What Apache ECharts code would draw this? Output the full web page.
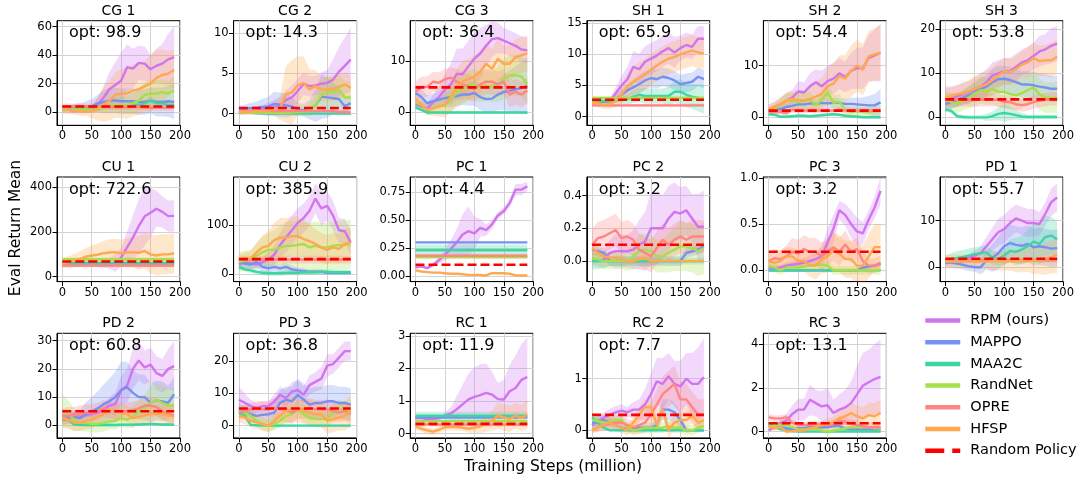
<!DOCTYPE html>
<html><head><meta charset="utf-8">
<script src="https://cdn.jsdelivr.net/npm/echarts@6/dist/echarts.min.js"></script>
<style>html,body{margin:0;padding:0;background:#fff}#c{width:1080px;height:483px}</style>
</head><body><div id="c"></div>
<script>
const STEPS = [0,10,20,30,40,50,60,70,80,90,100,110,120,130,140,150,160,170,180,190];
const ALGOS = ['RPM (ours)','MAPPO','MAA2C','RandNet','OPRE','HFSP'];
const COLORS = ['#d274f0','#7790f2','#3dd6a3','#a6df4a','#ff8585','#ffa84f'];
const TITLES = ['CG 1','CG 2','CG 3','SH 1','SH 2','SH 3','CU 1','CU 2','PC 1','PC 2','PC 3','PD 1','PD 2','PD 3','RC 1','RC 2','RC 3'];
const OPT = ['opt: 98.9','opt: 14.3','opt: 36.4','opt: 65.9','opt: 54.4','opt: 53.8','opt: 722.6','opt: 385.9','opt: 4.4','opt: 3.2','opt: 3.2','opt: 55.7','opt: 60.8','opt: 36.8','opt: 11.9','opt: 7.7','opt: 13.1'];
const RANDOM = [3.8,0.7,4.9,2.7,1.3,4.1,68,31,0.10,0.10,0.20,1.8,5.0,5.3,0.30,0.30,0.38];
const YMIN = [-9.4,-1.45,-2.5,-1.4,-1.55,-1.8,-22,-15,-0.05,-0.125,-0.123,-3.1,-4.45,-3.8,-0.13,-0.147,-0.29];
const YMAX = [64.2,11.5,17.9,15.4,18.7,22,446,199,0.883,0.513,1.01,19.4,32.6,28.5,3.08,1.88,4.49];
const YTICKS = [[0,20,40,60],[0,5,10],[0,10],[0,5,10,15],[0,10],[0,10,20],[0,200,400],[0,100],[0,0.25,0.5,0.75],[0,0.2,0.4],[0,0.5,1],[0,10],[0,10,20,30],[0,10,20],[0,1,2,3],[0,1],[0,2,4]];
const YDEC = [0,0,0,0,0,0,0,0,2,1,1,0,0,0,0,0,0];
const XTICKS = [0,50,100,150,200];

// rows: RPM, MAPPO, MAA2C, RandNet, OPRE, HFSP
const CG1_MEAN = [
 [1.5,1.5,1,1,1.2,2,5,10,16,19,22,31.5,30.5,34.5,34,30,32.5,34,37,38.5],
 [2,2.5,2.5,3,3.5,4,6,7,8,8,7.5,7.5,7.5,7,7,8,7,7,7.5,7],
 [3,3,3,3,3,3,3.5,4,4,4,4,4,5,5,6,8,6,6,5,5],
 [1.5,1.5,1.5,1.5,1.5,1.5,1.5,3,4,5,5,5,6,8,12,13,13,14,13,15],
 [4,4,4,4,4,3.5,3.5,3.5,3.5,3.5,3.5,3.5,3.5,3.5,3,3,3,3,3,3],
 [2,1.5,1,0.5,0.5,0.5,2,5,8,12,13,13,15,16,18,20,24,26,27,29.5]];
const CG1_SD = [
 [2,2,2,2,2,2,5,8,12,16,20,16,14,12,12,10,12,14,18,22],
 [2,2,3,3,4,5,6,8,9,9,9,9,9,9,9,9,10,10,11,12],
 [1,1,1,1,1,1,1.5,2,2,2,2,2,2,2,2.5,3,2.5,2.5,2,2],
 [1,1,1,1,1,1,1.5,3,4,5,6,6,7,8,9,9,9,9,9,10],
 [2,2,2,2,2,2,2,2,2,2,2,2,2,2,2,2,2,2,2,2],
 [3,3,3,3,3,5,8,12,14,16,17,18,18,18,18,20,20,18,16,14]];

const CG2_MEAN = [
 [0.1,0.2,0.3,0.4,0.5,0.6,0.8,1.0,1.7,2.0,2.8,3.7,3.4,3.5,3.7,3.8,4.2,5.2,5.9,6.7],
 [0.5,0.6,0.7,0.7,0.8,0.9,1.2,1.1,1.0,0.9,0.5,0.4,0.5,1.0,2.1,2.0,1.9,1.8,0.9,1.3],
 [0.1,0.1,0.1,0.05,0.05,0,0,0,0,0,0,0,0,0,0,0,0,0,0,0],
 [0.1,0.1,0.1,0.1,0.1,0.1,0.1,0.1,0.1,0.15,0.2,0.2,0.5,1.0,2.3,2.6,2.8,3.0,2.0,2.0],
 [0.3,0.3,0.3,0.3,0.3,0.3,0.3,0.3,0.3,0.3,0.3,0.3,0.3,0.3,0.3,0.3,0.3,0.2,0.2,0.1],
 [0.2,0.2,0.2,0.3,0.3,0.4,0.5,0.7,2.4,2.6,3.5,3.8,3.0,3.4,3.0,3.0,3.1,3.3,3.6,3.2]];
const CG2_SD = [
 [0.3,0.3,0.4,0.5,0.6,0.7,0.9,1,1.2,1.5,1.5,1.4,1.3,1.2,1.4,1.6,2.5,3,3.5,4],
 [0.5,0.5,0.6,0.8,1,1.2,1.5,1.5,1.5,1.2,0.8,0.8,1.2,2,2.8,2.5,2,1.5,1,1],
 [0.15,0.15,0.15,0.15,0.15,0.15,0.15,0.15,0.15,0.15,0.15,0.15,0.15,0.15,0.15,0.15,0.15,0.15,0.15,0.15],
 [0.1,0.1,0.1,0.1,0.1,0.1,0.1,0.1,0.2,0.3,0.4,0.5,0.8,1.2,1.8,2,2,2,2,2],
 [0.3,0.3,0.3,0.3,0.3,0.3,0.3,0.3,0.3,0.3,0.3,0.3,0.3,0.3,0.3,0.3,0.3,0.3,0.3,0.3],
 [0.3,0.3,0.3,0.3,0.4,0.5,0.8,1.5,3.5,4,3.6,3.3,2.5,2,1.5,1.5,1.5,1.5,1.5,1.5]];

const CG3_MEAN = [
 [1.6,1.2,0.8,2.0,3.0,4.5,5.5,7.5,7.5,9.0,10.5,11.5,13,14.3,14.5,14,13.5,13,12.3,12.1],
 [3.8,3.0,1.8,2.2,2.5,2.8,3.0,3.2,3.5,3.5,3.8,3.0,2.6,2.7,3.5,4.0,4.2,4.5,4.8,5.2],
 [1.0,0.5,0,0,0,0,0,0,0,0,0,0,0,0,0,0,0,0,0,0],
 [2.0,1.5,0.5,0.8,1.2,1.5,2.5,4.0,4.5,5.3,5.5,5.0,5.3,5.0,5.5,6.5,7.2,7.3,7.0,5.5],
 [4.0,5.0,5.0,6.0,5.8,6.5,6.8,6.0,5.5,5.0,4.5,5.5,6.0,6.0,5.5,6.0,3.5,4.0,3.5,4.3],
 [2.5,1.5,0.5,0.8,1.2,1.5,3.0,5.0,6.0,6.5,7.0,8.0,9.5,8.5,10.5,9.5,9.5,10.8,11.2,11.5]];
const CG3_SD = [
 [1,1,1,1.5,2,3,4,5,5,5,5,5,4,3.5,3,2.5,2.5,2.5,2.5,2.5],
 [1.5,1.5,1.5,1.5,1.5,1.8,2,2,2,2.2,2.5,2.5,2.5,2.8,3,3.5,4,4.5,5,5.5],
 [0.3,0.3,0.3,0.3,0.3,0.3,0.3,0.3,0.3,0.3,0.3,0.3,0.3,0.3,0.3,0.3,0.3,0.3,0.3,0.3],
 [1,1,1,1,1.5,2,2.5,3,3,3,3,3,3,3,3.5,4,4,4,4,4],
 [2,2,2,2,2,2,2,2.5,2.5,2.5,2.5,2.5,2.5,2.5,2.5,2.5,2.5,2.5,2.5,2.5],
 [1,1,1,1.5,2,2.5,3,3.5,4,4,4,4,4,4,4,3.5,3.5,3.5,3.5,3.5]];

const SH1_MEAN = [
 [2.4,2.4,2.4,2.5,3.7,5.0,6.0,8.0,7.6,8.8,9.3,9.8,10.5,11.0,10.3,11.0,11.5,11.2,12.5,12.5],
 [2.4,2.4,2.4,2.5,2.8,3.5,4.2,4.7,5.2,5.8,6.2,6.0,6.4,6.2,5.8,5.2,5.4,5.6,6.4,6.0],
 [2.5,2.5,2.5,2.5,2.6,2.7,2.8,3.2,3.5,3.3,3.3,3.3,3.3,3.3,4.0,4.0,3.5,3.2,3.0,2.8],
 [3.0,3.0,3.0,3.0,3.0,3.0,3.0,3.0,3.0,3.0,3.0,3.0,3.0,3.0,3.0,3.0,3.0,3.0,3.0,3.0],
 [1.8,1.8,1.8,1.8,1.8,1.8,1.8,1.8,1.8,1.8,1.8,1.8,1.8,1.8,1.8,1.8,1.8,1.8,1.8,1.8],
 [2.3,2.1,1.9,2.0,2.5,3.6,4.8,5.6,6.2,6.8,7.5,8.2,8.8,9.3,9.6,10.0,10.3,10.6,10.3,10.2]];
const SH1_SD = [
 [0.3,0.3,0.3,0.5,1,1.5,2,2.5,2.5,2.5,2.5,2.5,2.5,2.5,2.5,2,2,2,2,2],
 [0.3,0.3,0.3,0.4,0.6,0.8,1,1.2,1.5,1.5,1.5,1.5,1.5,1.5,1.5,1.5,1.5,1.5,1.5,1.5],
 [0.3,0.3,0.3,0.4,0.5,0.6,0.8,1,1.2,1.2,1.2,1.2,1.2,1.5,1.8,2,2,2,2.2,2.3],
 [0.25,0.25,0.25,0.25,0.25,0.25,0.25,0.25,0.25,0.25,0.25,0.25,0.25,0.25,0.25,0.25,0.25,0.25,0.25,0.25],
 [0.25,0.25,0.25,0.25,0.25,0.25,0.25,0.25,0.25,0.25,0.25,0.25,0.25,0.25,0.25,0.25,0.25,0.25,0.25,0.25],
 [0.5,0.6,0.7,0.8,1,1.5,2,2.5,2.5,2.5,2.5,2.5,2.5,2.5,2.5,2.5,2.5,2.5,2.5,2.5]];

const SH2_MEAN = [
 [1.5,2.0,2.5,3.2,3.8,5.0,4.8,6.0,6.8,6.0,7.0,7.5,8.5,7.8,9.0,9.5,9.5,11.5,12.0,12.5],
 [1.2,1.5,1.6,2.0,2.2,2.5,2.5,2.7,2.6,2.8,2.7,2.8,2.8,2.6,2.6,2.5,2.4,2.3,2.3,2.9],
 [0.6,0.5,0.1,0.1,0.2,0.3,0.3,0.2,0.3,0.4,0.5,0.6,0.5,0.3,0.2,0.1,0,0,0,0],
 [1.2,1.5,2.5,3.2,3.2,3.0,3.2,3.5,2.3,3.5,4.8,2.8,3.0,1.5,1.0,1.2,1.0,1.0,1.2,1.3],
 [1.0,1.0,1.0,0.8,1.5,1.2,1.3,1.3,1.3,1.3,1.3,1.3,1.5,1.3,1.3,1.3,1.3,1.3,1.3,1.3],
 [1.5,2.0,2.5,3.2,3.5,3.3,3.2,3.5,4.0,4.5,6.0,6.5,8.0,7.5,9.0,10.0,9.2,11.8,12.2,12.5]];
const SH2_SD = [
 [1,1,1.2,1.5,1.5,2,2,2.5,2.5,3,3,3,3,3,3.5,4,4,4.5,5,5.5],
 [0.5,0.5,0.6,0.7,0.8,0.9,1,1,1,1,1,1,1,1,1.2,1.3,1.5,1.8,2.2,2.6],
 [0.3,0.3,0.3,0.3,0.3,0.3,0.3,0.3,0.3,0.3,0.3,0.3,0.3,0.3,0.3,0.3,0.3,0.3,0.3,0.3],
 [0.8,1,1.2,1.5,1.5,1.5,1.5,1.5,1.5,1.5,1.8,1.5,1.5,1.2,1,1,1,1,1,1],
 [0.5,0.5,0.5,0.5,0.5,0.5,0.5,0.5,0.5,0.5,0.5,0.5,0.5,0.5,0.5,0.5,0.5,0.5,0.5,0.5],
 [1,1,1.5,1.5,1.5,2,2,2.5,3,3,3.5,4,4,4.5,5,5,5,5,5,5.5]];

const SH3_MEAN = [
 [4.5,4.5,4.8,5.3,5.8,6.5,7.0,8.0,9.5,10.0,10.5,10.5,11.5,12.5,13.0,14.0,15.0,15.5,16.3,16.8],
 [3.0,3.5,4.0,4.5,5.0,5.8,6.5,7.0,8.0,8.7,8.8,8.5,8.0,7.5,7.5,7.3,7.0,6.8,6.5,6.5],
 [1.8,1.5,0.3,0.1,0,0,0,0,0.3,0.8,1.0,0.8,0.5,0.2,0.1,0.1,0.1,0.1,0.1,0.1],
 [4.2,3.5,3.0,4.0,4.5,5.5,6.2,5.8,6.5,5.8,5.8,5.3,5.0,5.5,6.2,6.8,5.3,4.5,4.5,4.5],
 [4.0,4.0,4.0,4.0,4.0,4.0,4.0,4.0,4.0,4.0,3.5,3.5,3.0,2.8,3.0,3.5,3.8,4.0,4.2,4.2],
 [4.5,4.8,5.3,5.5,6.0,6.5,7.0,7.5,8.5,9.5,10.5,10.3,11.0,12.0,12.5,13.5,12.8,13.0,13.0,13.8]];
const SH3_SD = [
 [2.5,2.5,2.5,2.5,2.5,2.5,3,3,3,3,3,3,3,3,3,3,3.5,3.5,4,4],
 [1.5,1.5,1.5,1.5,2,2,2.5,2.5,3,3,3,3,3,3,3,3,3,3,3,3],
 [0.5,0.5,0.5,0.5,0.5,0.5,0.5,0.8,1,1.5,2,1.5,1,0.8,0.5,0.5,0.5,0.5,0.5,0.5],
 [2,2,2,2.5,2.5,3,3,3,3.5,3.5,3.5,3.5,3.5,3.5,3.5,3.5,3.5,3.5,3.5,3.5],
 [1.5,1.5,1.5,1.5,1.5,1.5,1.5,1.5,1.5,1.5,1.5,1.5,1.5,1.5,1.5,1.5,1.5,1.5,1.5,1.5],
 [2,2,2,2.5,2.5,3,3,3,3,3,3,3,3,3,3.5,3.5,3.5,3.5,4,4]];

const CU1_MEAN = [
 [60,60,60,60,60,60,60,60,60,62,86,131,175,227,270,286,304,290,271,272],
 [60,60,60,60,60,60,60,60,60,60,60,60,60,60,60,60,60,60,60,60],
 [58,58,58,58,58,58,58,58,58,58,58,58,58,58,58,58,58,58,58,58],
 [78,78,78,78,78,78,78,78,78,78,78,78,78,78,78,78,78,78,78,78],
 [50,50,50,50,50,50,50,50,50,50,50,50,50,50,50,50,50,50,50,50],
 [60,65,72,78,90,95,98,105,108,110,105,108,110,107,115,100,95,100,100,105]];
const CU1_SD = [
 [10,10,10,10,10,12,15,20,25,40,40,70,100,120,130,110,80,70,70,70],
 [5,5,5,5,5,5,5,5,5,5,5,5,5,5,5,5,5,5,5,5],
 [15,15,15,15,15,15,15,15,15,15,15,15,15,15,15,15,15,15,15,15],
 [8,8,8,8,8,8,8,8,8,8,8,8,8,8,8,8,8,8,8,8],
 [8,8,8,8,8,8,8,8,8,8,8,8,8,8,8,8,8,8,8,8],
 [20,25,30,35,40,45,50,55,60,60,60,65,70,75,80,85,90,90,90,90]];

const CU2_MEAN = [
 [20,25,22,20,25,30,40,60,75,90,105,115,130,155,135,140,120,90,88,65],
 [25,22,20,25,15,12,15,12,15,10,8,7,5,5,5,3,3,3,3,3],
 [15,10,8,5,3,2,2,2,3,3,3,4,4,4,5,5,4,4,4,4],
 [25,28,30,38,45,50,50,55,58,58,60,62,55,58,55,55,58,60,60,62],
 [30,30,30,30,30,30,30,30,30,30,30,30,30,30,30,30,30,30,30,30],
 [30,33,32,45,55,58,70,75,75,78,78,72,68,62,55,50,55,52,62,65]];
const CU2_SD = [
 [10,10,10,10,10,15,20,25,30,30,30,30,30,30,35,30,30,25,25,25],
 [10,10,10,10,10,8,8,8,8,8,6,6,5,5,5,4,4,4,4,4],
 [5,5,5,5,5,5,5,5,5,5,5,5,5,5,5,5,5,5,5,5],
 [20,20,20,25,30,35,40,45,50,50,50,50,50,50,50,50,50,50,50,50],
 [8,8,8,8,8,8,8,8,8,8,8,8,8,8,8,8,8,8,8,8],
 [10,12,15,20,25,30,35,40,40,40,40,35,35,30,30,30,30,30,30,30]];

const PC1_MEAN = [
 [0.077,0.086,0.07,0.10,0.14,0.19,0.24,0.30,0.37,0.40,0.38,0.43,0.41,0.46,0.54,0.58,0.65,0.77,0.77,0.80],
 [0.30,0.30,0.30,0.30,0.30,0.30,0.30,0.30,0.30,0.30,0.30,0.30,0.30,0.30,0.30,0.30,0.30,0.30,0.30,0.30],
 [0.23,0.23,0.23,0.23,0.23,0.23,0.23,0.23,0.23,0.23,0.23,0.23,0.23,0.23,0.23,0.23,0.23,0.23,0.23,0.23],
 [0.17,0.17,0.17,0.17,0.17,0.17,0.17,0.17,0.17,0.17,0.17,0.17,0.17,0.17,0.17,0.17,0.17,0.17,0.17,0.17],
 [0.18,0.18,0.18,0.18,0.18,0.18,0.18,0.18,0.18,0.18,0.18,0.18,0.18,0.18,0.18,0.18,0.18,0.18,0.18,0.18],
 [0.05,0.04,0.035,0.03,0.03,0.025,0.02,0.02,0.015,0.01,0.01,0.01,0.005,0.025,0.025,0.025,0.02,0.005,0.005,0.005]];
const PC1_SD = [
 [0.01,0.01,0.01,0.02,0.03,0.05,0.08,0.12,0.18,0.22,0.15,0.08,0.05,0.04,0.03,0.03,0.04,0.05,0.05,0.04],
 [0.003,0.003,0.003,0.003,0.003,0.003,0.003,0.003,0.003,0.003,0.003,0.003,0.003,0.003,0.003,0.003,0.003,0.003,0.003,0.003],
 [0.05,0.05,0.05,0.05,0.05,0.05,0.05,0.05,0.05,0.05,0.05,0.05,0.05,0.05,0.05,0.05,0.05,0.05,0.05,0.05],
 [0.02,0.02,0.02,0.02,0.02,0.02,0.02,0.02,0.02,0.02,0.02,0.02,0.02,0.02,0.02,0.02,0.02,0.02,0.02,0.02],
 [0.02,0.02,0.02,0.02,0.02,0.02,0.02,0.02,0.02,0.02,0.02,0.02,0.02,0.02,0.02,0.02,0.02,0.02,0.02,0.02],
 [0.005,0.005,0.005,0.005,0.005,0.005,0.005,0.005,0.005,0.005,0.005,0.005,0.005,0.005,0.005,0.005,0.005,0.005,0.005,0.005]];

const PC2_MEAN = [
 [0,0,0.01,0.05,0.06,0.06,0.06,0.07,0.10,0.12,0.20,0.20,0.20,0.26,0.30,0.29,0.31,0.26,0.21,0.21],
 [0.07,0.06,0.05,0,0,0,0,0,0,0,0,0,0,0,0,0,0.05,0.06,0.07,0.09],
 [0,0,0,0,0,0,0,0,0,0,0,0,0,0,0,0,0,0,0,0],
 [0.02,0.01,0,0,0,0,0,0.03,0.06,0.07,0.06,0.03,0.03,0.05,0.07,0.09,0.09,0.08,0.06,0.08],
 [0.10,0.14,0.15,0.17,0.19,0.14,0.15,0.13,0.07,0.05,0.03,0.08,0.13,0.10,0.13,0.15,0.13,0.15,0.15,0.15],
 [0.08,0.05,0.03,0.02,0.02,0.01,0,0,0.01,0.02,0,0,0,0,0,0,0,0,0,0]];
const PC2_SD = [
 [0.02,0.03,0.05,0.08,0.1,0.1,0.1,0.12,0.15,0.18,0.22,0.22,0.2,0.2,0.18,0.16,0.15,0.15,0.2,0.22],
 [0.03,0.03,0.03,0.03,0.03,0.03,0.03,0.03,0.03,0.03,0.03,0.03,0.03,0.03,0.03,0.03,0.03,0.03,0.03,0.03],
 [0.05,0.05,0.04,0.03,0.03,0.03,0.02,0.02,0.02,0.02,0.02,0.02,0.02,0.02,0.02,0.02,0.02,0.02,0.02,0.02],
 [0.05,0.05,0.05,0.05,0.05,0.05,0.06,0.08,0.1,0.1,0.1,0.1,0.1,0.12,0.13,0.15,0.15,0.15,0.15,0.16],
 [0.1,0.1,0.1,0.1,0.1,0.1,0.1,0.1,0.1,0.1,0.1,0.1,0.1,0.1,0.1,0.1,0.1,0.1,0.1,0.1],
 [0.03,0.03,0.03,0.03,0.03,0.03,0.02,0.02,0.02,0.02,0.01,0.01,0.01,0.01,0.01,0.01,0.01,0.01,0.01,0.01]];

const PC3_MEAN = [
 [0.02,0.02,0.03,0.05,0.06,0.07,0.08,0.10,0.12,0.15,0.30,0.45,0.65,0.60,0.50,0.42,0.40,0.55,0.68,0.86],
 [0,0,0,0,0,0,0,0,0,0,0,0,0,0,0,0,0.03,0.04,0.05,0.07],
 [0,0,0,0,0,0,0,0,0,0,0,0,0,0,0,0,0,0,0,0],
 [0.05,0.03,0,0.03,0.03,0.03,0.04,0.05,0.06,0.06,0.05,0,0,0,0,0,0,0,0,0],
 [0.10,0.13,0.12,0.15,0.20,0.18,0.23,0.20,0.20,0.15,0.20,0.25,0.20,0.28,0.20,0.23,0.10,0.05,0.05,0.08],
 [0.10,0.08,0.10,0.15,0.15,0.10,0.10,0.05,0.05,0.12,0.15,0.22,0.18,0.12,0.12,0.05,0.05,0.15,0.25,0.25]];
const PC3_SD = [
 [0.02,0.02,0.03,0.03,0.04,0.05,0.05,0.06,0.07,0.1,0.15,0.15,0.1,0.12,0.15,0.15,0.12,0.1,0.12,0.15],
 [0.02,0.02,0.02,0.02,0.02,0.02,0.02,0.02,0.02,0.02,0.02,0.02,0.02,0.02,0.02,0.02,0.02,0.02,0.02,0.02],
 [0.01,0.01,0.01,0.01,0.01,0.01,0.01,0.01,0.01,0.01,0.01,0.01,0.01,0.01,0.01,0.01,0.01,0.01,0.01,0.01],
 [0.05,0.05,0.05,0.05,0.05,0.05,0.05,0.05,0.05,0.05,0.05,0.05,0.05,0.05,0.05,0.05,0.05,0.05,0.05,0.05],
 [0.1,0.1,0.1,0.12,0.15,0.15,0.15,0.15,0.15,0.15,0.15,0.15,0.15,0.15,0.12,0.12,0.1,0.08,0.08,0.08],
 [0.08,0.08,0.1,0.1,0.1,0.12,0.12,0.12,0.15,0.15,0.18,0.2,0.2,0.2,0.2,0.22,0.22,0.24,0.25,0.25]];

const PD1_MEAN = [
 [1.0,1.3,1.5,1.6,2.0,2.5,3.0,4.5,6.0,7.5,8.2,9.5,10.5,10.0,9.5,9.5,9.3,11.5,14.0,15.0],
 [1.0,1.0,0.8,0.5,0.2,0.0,0.0,1.5,2.0,3.0,4.5,5.2,4.8,4.6,5.0,4.3,4.5,4.3,4.0,4.1],
 [1.5,1.8,2.0,2.2,2.5,2.8,3.0,3.2,2.0,1.8,2.5,3.5,3.3,3.8,4.5,5.5,5.0,6.5,6.8,6.0],
 [1.5,1.5,1.5,1.5,1.5,1.5,1.5,1.5,1.5,1.5,1.5,1.5,1.5,1.5,1.5,1.5,1.5,1.5,1.5,1.5],
 [1.5,1.5,1.5,1.5,1.5,1.5,1.5,1.5,1.5,1.5,1.5,1.5,1.5,1.5,1.5,1.5,1.5,1.5,1.5,1.5],
 [1.2,1.2,1.2,1.2,1.2,1.2,1.2,1.2,1.3,1.3,1.3,1.3,1.4,1.4,1.5,1.5,1.6,1.8,2.2,2.7]];
const PD1_SD = [
 [0.5,0.5,0.5,0.5,0.8,1,1.5,2,2.5,3,3,3,3,3,3,3,2.5,2.5,3,3],
 [1,1,1,1,1,1,1.5,2,3,3.5,4,4,4,4,4,4,4,4,4,4],
 [1,1.2,1.5,1.5,1.5,1.5,1.5,1.5,1.5,1.5,2,2.5,3,3,3.5,4,4.5,4.5,4,4],
 [0.5,0.5,0.5,0.5,0.5,0.5,0.5,0.5,0.5,0.5,0.5,0.5,0.5,0.5,0.5,0.5,0.5,0.5,0.5,0.5],
 [0.5,0.5,0.5,0.5,0.5,0.5,0.5,0.5,0.5,0.5,0.5,0.5,0.5,0.5,0.5,0.5,0.5,0.5,0.5,0.5],
 [1.5,1.5,1.5,1.5,1.5,1.5,1.5,1.5,2,2,2,2,2.5,2.5,2.5,3,3,3.5,3.5,4]];

const PD2_MEAN = [
 [3.5,3.0,4.0,3.0,3.5,4.0,4.5,5.5,7.0,7.5,12.5,14.0,20.0,23.0,20.5,21.5,18.5,17.5,20.0,21.0],
 [2.0,2.5,3.0,2.5,4.0,5.0,6.0,7.5,8.5,10.0,12.5,13.5,11.5,10.0,10.0,8.0,8.8,8.5,8.0,11.0],
 [2.0,2.0,0.3,0.2,0.1,0.1,0.1,0.1,0.1,0.1,0.2,0.2,0.2,0.3,0.4,0.5,0.4,0.3,0.3,0.2],
 [5.0,4.0,2.0,1.0,0.8,0.5,0.5,0.8,1.5,1.5,2.5,2.0,3.0,5.0,6.0,8.0,9.0,8.0,7.0,7.0],
 [3.0,3.5,3.5,4.0,4.5,4.5,5.0,6.0,5.5,5.0,5.0,5.0,5.5,6.0,7.0,7.0,6.5,5.0,4.0,3.5],
 [2.5,2.0,1.0,1.0,1.5,2.0,3.0,4.0,5.5,5.0,4.5,4.0,2.5,3.0,3.5,4.0,4.0,4.0,3.5,3.0]];
const PD2_SD = [
 [1,1,1,1,1,1,1.5,2,3,4,5,6,7,7,6,6,6,6,7,9],
 [1.5,2,2,3,4,5,6,7,8,9,10,9,8,8,8,7,7,7,6,6],
 [0.5,0.5,0.5,0.5,0.5,0.5,0.5,0.5,0.5,0.5,0.5,0.5,0.5,0.5,0.5,0.5,0.5,0.5,0.5,0.5],
 [6,5,4,3,3,3,3,3,3,3,3,3,4,4,5,6,6,6,6,6],
 [3,3,3,3,3,3,3,3,3,3,3,3,3,3,3,3,3,3,3,3],
 [3,3,3,3,3,3,3,3,3,3,3,3,3,3,3,3,3,3,3,3]];

const PD3_MEAN = [
 [8.0,7.0,6.0,5.5,6.0,6.0,7.5,9.5,8.5,10.5,11.0,9.5,12.5,13.5,14.5,18.5,19.0,21.0,23.0,23.0],
 [5.0,4.0,3.5,3.0,3.3,3.5,4.0,7.0,8.0,7.5,9.5,8.0,6.5,7.0,7.0,7.5,7.5,7.0,7.0,6.5],
 [4.0,3.0,0.2,0.1,0,0,0,0,0,0,0,0,0,0,0,0,0,0,0,0],
 [4.5,4.0,3.0,1.5,0.5,0.0,0.5,1.5,3.0,3.5,5.0,3.5,2.5,2.0,2.0,2.0,4.0,5.0,4.5,4.5],
 [4.0,4.5,5.0,5.5,5.0,5.0,5.5,5.0,5.0,4.0,5.0,5.0,5.5,5.0,5.0,5.0,4.5,4.0,4.5,3.5],
 [3.0,2.5,1.5,1.0,0.5,0.0,1.5,3.0,4.5,5.0,5.0,4.5,4.0,3.5,3.5,1.5,2.0,2.5,3.0,4.5]];
const PD3_SD = [
 [4,3,2,1.5,1.5,1.5,2,2.5,2.5,3,3,2.5,3,3,3.5,3.5,3,3,3,3],
 [2,2,2,2,2.5,3,3.5,4,4,4.5,5,5,5,5,5,5,5,5,5,5],
 [0.3,0.3,0.3,0.3,0.3,0.3,0.3,0.3,0.3,0.3,0.3,0.3,0.3,0.3,0.3,0.3,0.3,0.3,0.3,0.3],
 [2,2,2,2,2,2,2,2,2.5,2.5,2.5,2.5,2.5,2.5,2.5,2.5,3,3,3,3],
 [2,2,2,2,2.5,2.5,3,3.5,4,3.5,3,3,3,3,3,3,3,3,3,3],
 [2,2,2,2,2,2,2.5,3,3.5,4,4,4,4,4,4,4,4,4,4.5,5]];

const RC1_MEAN = [
 [0.48,0.48,0.45,0.45,0.48,0.55,0.62,0.75,0.90,1.05,1.13,1.18,1.25,1.20,1.06,1.05,1.30,1.40,1.65,1.74],
 [0.5,0.5,0.5,0.5,0.5,0.5,0.5,0.5,0.5,0.5,0.5,0.5,0.5,0.5,0.5,0.5,0.5,0.5,0.5,0.5],
 [0.55,0.55,0.55,0.55,0.55,0.55,0.55,0.55,0.55,0.55,0.55,0.55,0.55,0.55,0.55,0.55,0.55,0.55,0.55,0.55],
 [0.38,0.38,0.38,0.38,0.38,0.38,0.38,0.38,0.38,0.38,0.38,0.38,0.38,0.38,0.38,0.38,0.38,0.38,0.38,0.38],
 [0.28,0.28,0.28,0.28,0.28,0.28,0.28,0.28,0.28,0.28,0.28,0.28,0.28,0.28,0.28,0.28,0.28,0.28,0.28,0.28],
 [0.22,0.15,0.10,0.06,0.12,0.20,0.20,0.20,0.18,0.15,0.18,0.22,0.30,0.40,0.55,0.50,0.45,0.55,0.48,0.58]];
const RC1_SD = [
 [0.05,0.05,0.05,0.05,0.05,0.1,0.2,0.4,0.6,0.8,0.9,0.95,0.9,0.7,0.5,0.6,0.8,1.0,1.1,1.2],
 [0.05,0.05,0.05,0.05,0.05,0.05,0.05,0.05,0.05,0.05,0.05,0.05,0.05,0.05,0.05,0.05,0.05,0.05,0.05,0.05],
 [0.12,0.12,0.12,0.12,0.12,0.12,0.12,0.12,0.12,0.12,0.12,0.12,0.12,0.12,0.12,0.12,0.12,0.12,0.12,0.12],
 [0.03,0.03,0.03,0.03,0.03,0.03,0.03,0.03,0.03,0.03,0.03,0.03,0.03,0.03,0.03,0.03,0.03,0.03,0.03,0.03],
 [0.05,0.05,0.05,0.05,0.05,0.05,0.05,0.05,0.05,0.05,0.05,0.05,0.05,0.05,0.05,0.05,0.05,0.05,0.05,0.05],
 [0.1,0.1,0.1,0.1,0.1,0.1,0.1,0.1,0.1,0.12,0.15,0.2,0.25,0.3,0.4,0.4,0.4,0.4,0.4,0.45]];

const RC2_MEAN = [
 [0.10,0.18,0.25,0.30,0.35,0.38,0.35,0.40,0.40,0.50,0.70,0.95,0.90,1.05,0.90,0.85,1.00,0.90,0.90,1.03],
 [0.15,0.15,0.20,0.15,0.10,0.05,0.02,0.02,0.05,0.05,0.05,0.10,0.40,0.40,0.35,0.20,0,0,0,0],
 [0.25,0.15,0.05,0,0,0,0,0,0,0,0,0,0,0,0,0,0,0,0,0],
 [0.20,0.18,0.15,0.15,0.20,0.20,0.05,0,0.02,0.05,0.05,0.05,0.05,0.08,0.05,0.05,0,0,0.05,0.08],
 [0,0.05,0.10,0.12,0.15,0.15,0.10,0.05,0.10,0.15,0.30,0.50,0.70,0.80,0.90,0.60,0.60,0.45,0.30,0.30],
 [0,0.05,0.12,0.15,0.10,0.05,0,0.15,0.30,0.45,0.45,0.10,0.40,0,0.15,0.20,0.20,0.28,0.15,0.20]];
const RC2_SD = [
 [0.05,0.1,0.1,0.12,0.12,0.12,0.1,0.15,0.2,0.3,0.4,0.45,0.5,0.45,0.45,0.5,0.5,0.6,0.7,0.75],
 [0.1,0.1,0.1,0.1,0.08,0.05,0.03,0.03,0.05,0.05,0.05,0.1,0.2,0.2,0.2,0.15,0.05,0.03,0.03,0.03],
 [0.12,0.1,0.05,0.02,0.02,0.02,0.02,0.02,0.02,0.02,0.02,0.02,0.02,0.02,0.02,0.02,0.02,0.02,0.02,0.02],
 [0.1,0.1,0.1,0.1,0.1,0.1,0.1,0.1,0.1,0.1,0.1,0.1,0.1,0.1,0.1,0.1,0.1,0.1,0.1,0.1],
 [0.05,0.08,0.1,0.1,0.12,0.12,0.12,0.12,0.15,0.2,0.25,0.3,0.35,0.35,0.35,0.35,0.3,0.3,0.3,0.3],
 [0.05,0.08,0.1,0.12,0.12,0.1,0.1,0.12,0.15,0.15,0.15,0.15,0.15,0.15,0.15,0.15,0.15,0.15,0.15,0.15]];

const RC3_MEAN = [
 [0.05,0.2,0.4,0.5,0.8,1.0,1.0,1.45,1.3,1.15,1.2,0.85,1.0,1.1,1.3,1.7,2.1,2.25,2.4,2.5],
 [0.3,0.25,0.2,0.15,0.1,0.15,0.15,0.2,0.2,0.2,0.2,0.25,0.25,0.15,0.1,0.1,0.1,0.1,0.1,0.1],
 [0.4,0.2,0.1,0.05,0.02,0,0,0,0,0,0,0,0,0,0,0,0,0,0,0],
 [0.25,0.25,0.3,0.3,0.2,0.1,0.1,0.1,0.1,0.05,0,0.05,0.1,0.15,0.2,0.2,0.2,0.2,0.15,0.15],
 [0.65,0.6,0.6,0.65,0.4,0.3,0.3,0.3,0.35,0.3,0.3,0.35,0.5,0.45,0.35,0.3,0.25,0.2,0.2,0.2],
 [0.2,0.15,0.2,0,0.02,0.05,0.05,0.15,0.2,0.3,0.35,0.4,0.6,0.7,0.85,0.7,0.6,0.75,0.7,0.85]];
const RC3_SD = [
 [0.05,0.1,0.2,0.3,0.4,0.5,0.5,0.7,0.6,0.7,0.8,0.6,0.7,0.8,1.0,1.3,1.5,1.5,1.6,1.7],
 [0.1,0.1,0.1,0.1,0.1,0.1,0.1,0.1,0.1,0.1,0.1,0.1,0.1,0.1,0.1,0.1,0.1,0.1,0.1,0.1],
 [0.05,0.05,0.05,0.05,0.05,0.05,0.05,0.05,0.05,0.05,0.05,0.05,0.05,0.05,0.05,0.05,0.05,0.05,0.05,0.05],
 [0.1,0.1,0.1,0.1,0.1,0.1,0.1,0.1,0.1,0.1,0.1,0.1,0.1,0.1,0.1,0.1,0.1,0.1,0.1,0.1],
 [0.15,0.15,0.15,0.15,0.15,0.15,0.15,0.15,0.15,0.15,0.15,0.2,0.2,0.2,0.2,0.2,0.2,0.2,0.2,0.2],
 [0.1,0.1,0.1,0.1,0.1,0.1,0.1,0.15,0.2,0.2,0.25,0.3,0.35,0.4,0.45,0.5,0.5,0.55,0.6,0.6]];

const MEANS = [CG1_MEAN,CG2_MEAN,CG3_MEAN,SH1_MEAN,SH2_MEAN,SH3_MEAN,CU1_MEAN,CU2_MEAN,PC1_MEAN,PC2_MEAN,PC3_MEAN,PD1_MEAN,PD2_MEAN,PD3_MEAN,RC1_MEAN,RC2_MEAN,RC3_MEAN];
const SDS = [CG1_SD,CG2_SD,CG3_SD,SH1_SD,SH2_SD,SH3_SD,CU1_SD,CU2_SD,PC1_SD,PC2_SD,PC3_SD,PD1_SD,PD2_SD,PD3_SD,RC1_SD,RC2_SD,RC3_SD];

const FONT = 'DejaVu Sans';
const grids = [], xAxes = [], yAxes = [], series = [], graphics = [];

function bandSeries(p, j) {
  const mean = MEANS[p][j], sd = SDS[p][j], color = COLORS[j];
  const data = STEPS.map((x, k) => [x, mean[k] - sd[k], mean[k] + sd[k]]);
  return {
    type: 'custom', name: 'band_' + p + '_' + j, xAxisIndex: p, yAxisIndex: p, silent: true, clip: true,
    data: data, encode: {x: 0, y: [1, 2]},
    renderItem: function (params, api) {
      if (params.dataIndexInside !== 0) return null;
      const pts = [];
      for (let k = 0; k < data.length; k++) pts.push(api.coord([data[k][0], data[k][2]]));
      for (let k = data.length - 1; k >= 0; k--) pts.push(api.coord([data[k][0], data[k][1]]));
      return {type: 'polygon', shape: {points: pts}, style: {fill: color, opacity: 0.28}};
    }
  };
}

for (let p = 0; p < TITLES.length; p++) {
  const c = p % 6, r = Math.floor(p / 6);
  const left = 57 + c * 176.6, top = 20.7 + r * 156.3, w = 123, h = 104.6;
  grids.push({left: left, top: top, width: w, height: h, show: true, borderColor: '#000', borderWidth: 1, backgroundColor: '#fff'});
  xAxes.push({gridIndex: p, type: 'value', min: -9, max: 200,
    axisLine: {show: true, onZero: false, lineStyle: {color: '#000', width: 1}},
    axisTick: {show: true, length: 4.5, customValues: XTICKS, lineStyle: {color: '#000', width: 1}},
    axisLabel: {customValues: XTICKS, margin: 5, fontFamily: FONT, fontSize: 11.5, color: '#000'},
    splitLine: {show: true, lineStyle: {color: '#d3d3d3', width: 1}}});
  const dec = YDEC[p];
  yAxes.push({gridIndex: p, type: 'value', min: YMIN[p], max: YMAX[p],
    axisLine: {show: true, onZero: false, lineStyle: {color: '#000', width: 1}},
    axisTick: {show: true, length: 4.5, customValues: YTICKS[p], lineStyle: {color: '#000', width: 1}},
    axisLabel: {customValues: YTICKS[p], margin: 5, fontFamily: FONT, fontSize: 11.5, color: '#000',
      formatter: function (v) { return Number(v).toFixed(dec); }},
    splitLine: {show: true, lineStyle: {color: '#d3d3d3', width: 1}}});
  for (let j = 0; j < ALGOS.length; j++) {
    const mean = MEANS[p][j];
    series.push(bandSeries(p, j));
    series.push({type: 'line', name: ALGOS[j], xAxisIndex: p, yAxisIndex: p,
      data: STEPS.map((x, k) => [x, mean[k]]), symbol: 'none', showSymbol: false, silent: true,
      lineStyle: {color: COLORS[j], width: 2.4}, itemStyle: {color: COLORS[j]}});
  }
  series.push({type: 'line', name: 'Random Policy', xAxisIndex: p, yAxisIndex: p,
    data: [[STEPS[0], RANDOM[p]], [STEPS[STEPS.length - 1], RANDOM[p]]], symbol: 'none', showSymbol: false, silent: true,
    lineStyle: {color: '#ff0000', width: 2.6, type: [9, 4]}, itemStyle: {color: '#ff0000'}});
  graphics.push({type: 'text', x: left + w / 2, y: top - 9.5, z: 100,
    style: {text: TITLES[p], font: '14px "DejaVu Sans"', fill: '#000', align: 'center', verticalAlign: 'middle'}});
  graphics.push({type: 'text', x: left + 12, y: top + 12.5, z: 100,
    style: {text: OPT[p], font: '16px "DejaVu Sans"', fill: '#000', align: 'left', verticalAlign: 'middle'}});
}
graphics.push({type: 'text', x: 16, y: 228, rotation: Math.PI / 2, z: 100,
  style: {text: 'Eval Return Mean', font: '15.5px "DejaVu Sans"', fill: '#000', align: 'center', verticalAlign: 'middle'}});
graphics.push({type: 'text', x: 553, y: 467, z: 100,
  style: {text: 'Training Steps (million)', font: '15.5px "DejaVu Sans"', fill: '#000', align: 'center', verticalAlign: 'middle'}});

const legendData = ALGOS.map(n => ({name: n}));
legendData.push({name: 'Random Policy', lineStyle: {width: 4.5, type: [19, 8]}});

const chart = echarts.init(document.getElementById('c'), null, {renderer: 'canvas'});
chart.setOption({
  animation: false,
  backgroundColor: '#fff',
  grid: grids, xAxis: xAxes, yAxis: yAxes, series: series, graphic: graphics,
  legend: {orient: 'vertical', left: 923, top: 313, padding: 0, itemGap: 6.7, itemWidth: 35, itemHeight: 14,
    selectedMode: false, lineStyle: {width: 4.5}, itemStyle: {opacity: 0},
    textStyle: {fontFamily: FONT, fontSize: 14.5, color: '#000', padding: [0, 0, 0, 5]},
    data: legendData}
});
</script></body></html>
